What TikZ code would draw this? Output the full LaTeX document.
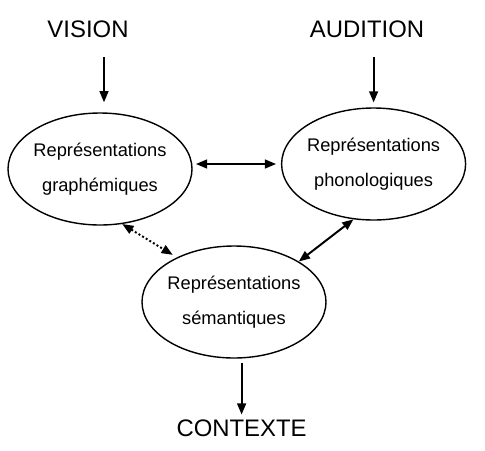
\documentclass[tikz,border=0pt]{standalone}
\usepackage{fontspec}
\setmainfont{Liberation Sans}
\usetikzlibrary{arrows.meta,shapes.geometric}

\begin{document}
\begin{tikzpicture}[
        ell/.style={draw, ellipse, line width=1pt, inner ysep=0pt, inner xsep=-1.2pt,
            minimum width=4.6cm, minimum height=2.8cm, align=center,
            font=\fontsize{13}{25}\selectfont},
        titre/.style={font=\fontsize{17}{20}\selectfont},
        arr/.style={-{Triangle[length=2.8mm,width=2.2mm]}, line width=1.4pt},
        both/.style={{Triangle[length=2.8mm,width=2.2mm]}-{Triangle[length=2.8mm,width=2.2mm]}, line width=1.4pt}
    ]
            \useasboundingbox (0,0) rectangle (12.125,-11.25);
            
            \node[titre] (vision) at (2.2,-0.725) {VISION};
            \node[titre] (audition) at (9.175,-0.725) {AUDITION};
            \node[titre] (contexte) at (6.04,-10.7) {CONTEXTE};
            
            \node[ell] (graph) at (2.5,-4.225) {Représentations\\graphémiques};
            \node[ell] (phono) at (9.34,-4.1) {Représentations\\phonologiques};
            \node[ell] (sema) at (5.85,-7.55) {Représentations\\sémantiques};
            
            % entrees
            \draw[arr, shorten <=0.37cm, shorten >=0.25cm]
                ([xshift=0.1cm]vision.south -| graph.north) -- ([xshift=0.1cm]graph.north);
            \draw[arr, shorten <=0.37cm, shorten >=0.12cm]
                (audition.south -| phono.north) -- (phono.north);
            
            \draw[both, shorten <=0.08cm, shorten >=0.12cm]
                (graph.east |- phono.west) -- (phono.west);
            \draw[both, dash pattern=on 1.4pt off 1.6pt, shorten >=0.12cm]
                (graph.-68) -- (sema.142.5);
            \draw[both] (phono.-110.6) -- (sema.32.7);
            
            \draw[arr, shorten <=0.1cm]
                (sema.south -| contexte.north) -- (contexte.north);
            
\end{tikzpicture}
\end{document}
